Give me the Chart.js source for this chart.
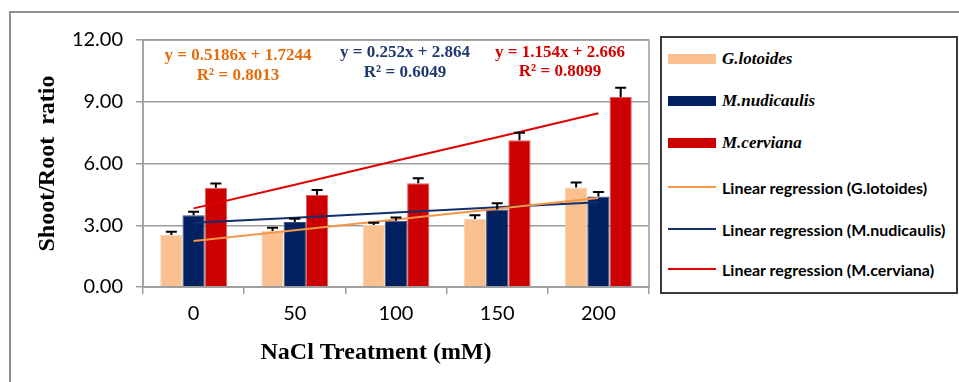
<!DOCTYPE html>
<html lang="en">

<head>
    <meta charset="UTF-8">
    <title>Shoot/Root ratio</title>
    <style>
        html, body {
            margin: 0;
            padding: 0;
            background: #fff;
        }

        #wrap {
            position: relative;
            width: 959px;
            height: 382px;
            overflow: hidden;
        }

        #frame {
            position: absolute;
            left: 9px;
            top: 11px;
            width: 1000px;
            height: 420px;
            border: 2px solid #8f8f8f;
            box-sizing: border-box;
        }

        #chartCanvas {
            position: absolute;
            left: 0;
            top: 0;
        }

        #legend {
            position: absolute;
            left: 660px;
            top: 36px;
            width: 298px;
            height: 258px;
            border: 2px solid #3a3a3a;
            box-sizing: border-box;
            background: #fff;
        }

        #legend .item {
            position: absolute;
            left: 6px;
            height: 20px;
            display: flex;
            align-items: center;
            white-space: nowrap;
        }

        #legend .swatch {
            width: 48px;
            margin-right: 6px;
        }

        #legend .bar-label {
            font: italic bold 17px "Liberation Serif", serif;
            color: #000;
        }

        #legend .line-label {
            font: bold 16px Lato, sans-serif;
            color: #000;
        }
    </style>
</head>

<body>
    <div id="wrap">
        <div id="frame"></div>
        <canvas id="chartCanvas" width="959" height="382"></canvas>
        <div id="legend"></div>
    </div>

    <script src="https://cdn.jsdelivr.net/npm/chart.js"></script>
    <script>
        // dados
        const categories = ['0', '50', '100', '150', '200'];
        const yTicks = [0, 3, 6, 9, 12];

        const speciesNames = ['G.lotoides', 'M.nudicaulis', 'M.cerviana'];
        const gLotoides = [2.53, 2.72, 3.01, 3.30, 4.84];
        const gLotoidesErr = [0.15, 0.16, 0.11, 0.19, 0.24];
        const mNudicaulis = [3.48, 3.16, 3.22, 3.77, 4.40];
        const mNudicaulisErr = [0.18, 0.16, 0.16, 0.30, 0.22];
        const mCerviana = [4.82, 4.47, 5.04, 7.13, 9.23];
        const mCervianaErr = [0.21, 0.24, 0.24, 0.36, 0.45];

        // linhas de tendência (valores nos pontos da categoria)
        const trendG = [2.24, 2.76, 3.28, 3.80, 4.32];
        const trendN = [3.12, 3.37, 3.62, 3.87, 4.12];
        const trendC = [3.82, 4.97, 6.13, 7.28, 8.44];

        const equations = [
            ['y = 0.5186x + 1.7244', 'R² = 0.8013'],
            ['y = 0.252x + 2.864', 'R² = 0.6049'],
            ['y = 1.154x + 2.666', 'R² = 0.8099']
        ];

        const xTitle = 'NaCl Treatment (mM)';
        const yTitle = 'Shoot/Root  ratio';

        const barColors = ['#FAC090', '#002060', '#CC0000'];
        const lineColors = ['#F79646', '#12306E', '#E00000'];
        const eqColors = ['#E46C0A', '#1F3A6E', '#D40000'];

        const errors = [gLotoidesErr, mNudicaulisErr, mCervianaErr];

        // barras de erro (só para cima)
        const errorBars = {
            id: 'errorBars',
            afterDatasetsDraw(chart) {
                const c = chart.ctx;
                const y = chart.scales.y;
                c.save();
                c.strokeStyle = '#000';
                c.lineWidth = 2;
                for (let d = 0; d < 3; d++) {
                    const meta = chart.getDatasetMeta(d);
                    const values = chart.data.datasets[d].data;
                    meta.data.forEach((bar, i) => {
                        const top = y.getPixelForValue(values[i]);
                        const cap = y.getPixelForValue(values[i] + errors[d][i]);
                        c.beginPath();
                        c.moveTo(bar.x, top);
                        c.lineTo(bar.x, cap);
                        c.moveTo(bar.x - 5.5, cap);
                        c.lineTo(bar.x + 5.5, cap);
                        c.stroke();
                    });
                }
                c.restore();
            }
        };

        // contorno da área do gráfico, títulos dos eixos e equações
        const plotExtras = {
            id: 'plotExtras',
            afterDraw(chart) {
                const c = chart.ctx;
                const a = chart.chartArea;
                c.save();
                c.strokeStyle = '#9d9d9d';
                c.lineWidth = 1.5;
                c.strokeRect(a.left, a.top, a.right - a.left, a.bottom - a.top);

                c.textAlign = 'center';
                c.textBaseline = 'middle';
                c.fillStyle = '#000';
                c.font = 'bold 24px "Liberation Serif", serif';
                c.fillText(xTitle, 376, 353);
                c.save();
                c.translate(48, (a.top + a.bottom) / 2);
                c.rotate(-Math.PI / 2);
                c.fillText(yTitle, 0, 0);
                c.restore();

                const pos = [[238, 56, 76], [405, 53, 73], [560, 53, 72]];
                c.font = 'bold 17px "Liberation Serif", serif';
                equations.forEach((eq, k) => {
                    c.fillStyle = eqColors[k];
                    c.fillText(eq[0], pos[k][0], pos[k][1]);
                    c.fillText(eq[1], pos[k][0], pos[k][2]);
                });
                c.restore();
            }
        };

        const ctx = document.getElementById('chartCanvas').getContext('2d');

        const chart = new Chart(ctx, {
            type: 'bar',
            data: {
                labels: categories,
                datasets: [
                    { label: speciesNames[0], data: gLotoides, backgroundColor: barColors[0], borderColor: '#fbd3b0', borderWidth: 1, order: 1 },
                    { label: speciesNames[1], data: mNudicaulis, backgroundColor: barColors[1], borderColor: '#3a4f80', borderWidth: 1, order: 1 },
                    { label: speciesNames[2], data: mCerviana, backgroundColor: barColors[2], borderColor: '#e06060', borderWidth: 1, order: 1 },
                    { type: 'line', label: 'Linear regression (G.lotoides)', data: trendG, borderColor: lineColors[0], borderWidth: 2, pointRadius: 0, order: 0 },
                    { type: 'line', label: 'Linear regression (M.nudicaulis)', data: trendN, borderColor: lineColors[1], borderWidth: 2, pointRadius: 0, order: 0 },
                    { type: 'line', label: 'Linear regression (M.cerviana)', data: trendC, borderColor: lineColors[2], borderWidth: 2, pointRadius: 0, order: 0 }
                ]
            },
            options: {
                responsive: false,
                animation: false,
                datasets: {
                    bar: { categoryPercentage: 0.66, barPercentage: 1.0 }
                },
                layout: {
                    padding: { left: 10, top: 40, right: 310, bottom: 0 }
                },
                plugins: {
                    legend: { display: false },
                    tooltip: { enabled: false }
                },
                scales: {
                    x: {
                        grid: {
                            display: true,
                            drawOnChartArea: false,
                            color: '#9d9d9d',
                            lineWidth: 1.5,
                            tickLength: 7
                        },
                        border: { display: true, color: '#9d9d9d', width: 1.5 },
                        ticks: {
                            color: '#000',
                            padding: 8,
                            font: { family: 'Lato', size: 20 }
                        },
                        afterFit(scale) { scale.height = 95; }
                    },
                    y: {
                        min: 0,
                        max: 12,
                        afterBuildTicks(scale) {
                            scale.ticks = yTicks.map(v => ({ value: v }));
                        },
                        grid: {
                            color: '#9d9d9d',
                            lineWidth: 1.5,
                            tickLength: 7
                        },
                        border: { display: true, color: '#9d9d9d', width: 1.5 },
                        ticks: {
                            color: '#000',
                            padding: 13,
                            font: { family: 'Lato', size: 20 },
                            callback: v => Number(v).toFixed(2)
                        },
                        afterFit(scale) { scale.width = 133; }
                    }
                }
            },
            plugins: [errorBars, plotExtras]
        });

        // legenda em HTML
        const legend = document.getElementById('legend');
        const legendRows = [21, 63, 105, 149, 191, 231];
        chart.data.datasets.forEach((ds, i) => {
            const item = document.createElement('div');
            item.className = 'item';
            item.style.top = (legendRows[i] - 10) + 'px';
            const sw = document.createElement('span');
            sw.className = 'swatch';
            const lab = document.createElement('span');
            lab.textContent = ds.label;
            if (ds.type === 'line') {
                sw.style.height = '2px';
                sw.style.background = ds.borderColor;
                lab.className = 'line-label';
            } else {
                sw.style.height = '10px';
                sw.style.background = ds.backgroundColor;
                lab.className = 'bar-label';
            }
            item.appendChild(sw);
            item.appendChild(lab);
            legend.appendChild(item);
        });
    </script>
</body>

</html>
